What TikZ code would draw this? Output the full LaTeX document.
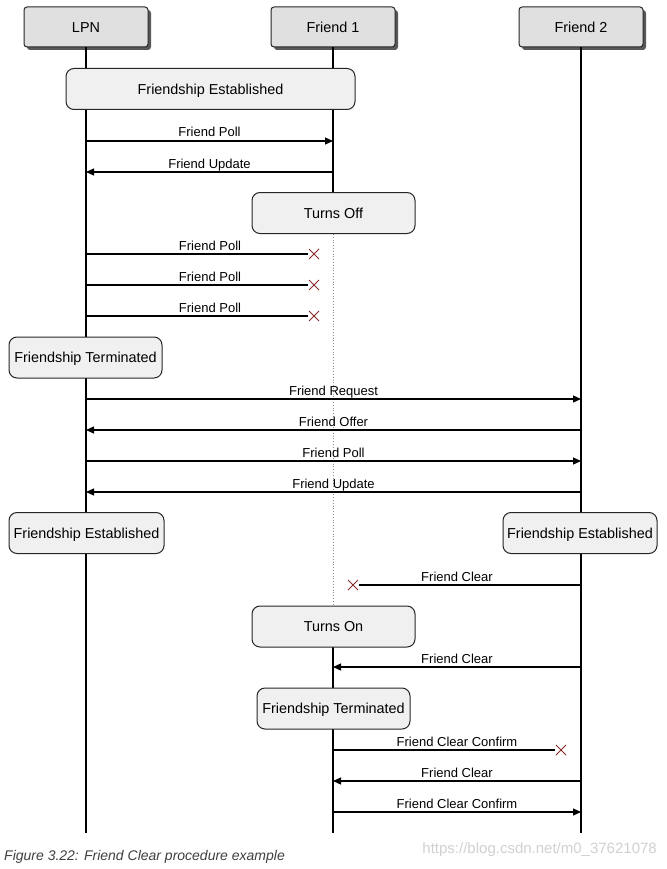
\documentclass[tikz,border=0pt]{standalone}
\usepackage{fontspec}
\setmainfont{Liberation Sans}
\usetikzlibrary{arrows.meta,shadows,calc}
\definecolor{hdrfill}{HTML}{E0E0E0}
\definecolor{evfill}{HTML}{F0F0F0}
\definecolor{lostred}{HTML}{8B2A2A}
\tikzset{
  hdr/.style={draw=black!85, line width=1pt, fill=hdrfill, rounded corners=3pt,
    minimum width=124pt, minimum height=40pt, inner sep=0pt,
    text height=10.4pt, text depth=0pt,
    font=\fontsize{14.4}{16}\selectfont,
    drop shadow={shadow xshift=3pt, shadow yshift=-3pt, fill=black!65, opacity=1}},
  evbox/.style={draw=black!85, line width=1pt, fill=evfill, rounded corners=8pt,
    minimum height=41pt, inner sep=0pt, text height=10.4pt, text depth=0pt,
    font=\fontsize{14.4}{16}\selectfont},
  life/.style={line width=1.4pt, black},
  dotlife/.style={line width=0.8pt, black!45, dotted},
  msg/.style={line width=1.2pt, black, -{Triangle[length=8pt,width=7pt]}},
  lostmsg/.style={line width=1.2pt, black},
  lbl/.style={font=\fontsize{13}{15}\selectfont, inner sep=1pt, anchor=south,
    text height=9.4pt, text depth=2.4pt},
  lostx/.style={draw=lostred, line width=1pt}
}
\newcommand{\lostmark}[1]{\draw[lostx] ($(#1)+(-5,-5)$) -- ($(#1)+(5,5)$) ($(#1)+(-5,5)$) -- ($(#1)+(5,-5)$);}
\begin{document}
\begin{tikzpicture}[x=1pt,y=-1pt]
\useasboundingbox (0,0) rectangle (666,869);
\fill[white] (0,0) rectangle (666,869);

% headers
\node[hdr] (lpn) at (86,27) {LPN};
\node[hdr] (f1) at (333,27) {Friend 1};
\node[hdr] (f2) at (581,27) {Friend 2};

% lifeline end coordinates
\coordinate (lpnend) at (86,833);
\coordinate (f2end) at (581,833);
\coordinate (f1end) at (333,833);

\draw[life] (lpn.south) -- (lpnend);
\draw[life] (f2.south) -- (f2end);

% event boxes (positions)
\coordinate (fe1c) at (210.5,89);
\coordinate (toffc) at (333.5,213);
\coordinate (ft1c) at (85.5,357.5);
\coordinate (fe2c) at (86.5,533);
\coordinate (fe3c) at (580,533);
\coordinate (tonc) at (333.5,626.5);
\coordinate (ft2c) at (333.5,708.5);

% friend 1 lifeline segments
\coordinate (toffb) at (333,234);
\coordinate (tont) at (333,606);
\draw[life] (f1.south) -- (333,70);
\draw[life] (333,108) -- (333,194);
\draw[dotlife] (toffb) -- (tont);
\draw[life] (333,646) -- (f1end);

\node[evbox, minimum width=289pt] (fe1) at (fe1c) {Friendship Established};
\node[evbox, minimum width=163pt] (toff) at (toffc) {Turns Off};
\node[evbox, minimum width=153pt] (ft1) at (ft1c) {Friendship Terminated};
\node[evbox, minimum width=155pt] (fe2) at (fe2c) {Friendship Established};
\node[evbox, minimum width=154pt] (fe3) at (fe3c) {Friendship Established};
\node[evbox, minimum width=163pt] (ton) at (tonc) {Turns On};
\node[evbox, minimum width=153pt] (ft2) at (ft2c) {Friendship Terminated};

% messages
\coordinate (a1) at (86,141); \coordinate (b1) at (333,141);
\draw[msg] (a1) -- (b1) node[lbl, midway] {Friend Poll};
\coordinate (a2) at (333,172); \coordinate (b2) at (86,172);
\draw[msg] (a2) -- (b2) node[lbl, midway] {Friend Update};

% lost polls
\coordinate (a3) at (86,254); \coordinate (b3) at (308,254); \coordinate (x3) at (314,254);
\coordinate (a4) at (86,285); \coordinate (b4) at (308,285); \coordinate (x4) at (314,285);
\coordinate (a5) at (86,316); \coordinate (b5) at (308,316); \coordinate (x5) at (314,316);
\draw[lostmsg] (a3) -- (b3);
\node[lbl] (l3) at (210,254) {Friend Poll};
\lostmark{x3}
\draw[lostmsg] (a4) -- (b4);
\node[lbl] (l4) at (210,285) {Friend Poll};
\lostmark{x4}
\draw[lostmsg] (a5) -- (b5);
\node[lbl] (l5) at (210,316) {Friend Poll};
\lostmark{x5}

% friend 2 exchange
\coordinate (a6) at (86,399); \coordinate (b6) at (581,399);
\draw[msg] (a6) -- (b6) node[lbl, midway] {Friend Request};
\coordinate (a7) at (581,430); \coordinate (b7) at (86,430);
\draw[msg] (a7) -- (b7) node[lbl, midway] {Friend Offer};
\coordinate (a8) at (86,461); \coordinate (b8) at (581,461);
\draw[msg] (a8) -- (b8) node[lbl, midway] {Friend Poll};
\coordinate (a9) at (581,492); \coordinate (b9) at (86,492);
\draw[msg] (a9) -- (b9) node[lbl, midway] {Friend Update};

% lost clear
\coordinate (a10) at (581,585); \coordinate (b10) at (359,585); \coordinate (x10) at (353,585);
\draw[lostmsg] (a10) -- (b10);
\node[lbl] (l10) at (457,585) {Friend Clear};
\lostmark{x10}

\coordinate (a11) at (581,667); \coordinate (b11) at (333,667);
\draw[msg] (a11) -- (b11) node[lbl, midway] {Friend Clear};

\coordinate (a12) at (333,750); \coordinate (b12) at (555,750); \coordinate (x12) at (561,750);
\draw[lostmsg] (a12) -- (b12);
\node[lbl] (l12) at (457,750) {Friend Clear Confirm};
\lostmark{x12}

\coordinate (a13) at (581,781); \coordinate (b13) at (333,781);
\draw[msg] (a13) -- (b13) node[lbl, midway] {Friend Clear};
\coordinate (a14) at (333,812); \coordinate (b14) at (581,812);
\draw[msg] (a14) -- (b14) node[lbl, midway] {Friend Clear Confirm};

% caption and watermark
\node[anchor=west, inner sep=0pt, text=black!75, font=\fontsize{14}{16}\selectfont\itshape] (cap) at (4,857) {Figure 3.22: Friend Clear procedure example};
\node[anchor=east, inner sep=0pt, text=black!18, font=\fontsize{15}{17}\selectfont] (wm) at (657,850) {https://blog.csdn.net/m0\_37621078};
\end{tikzpicture}
\end{document}
